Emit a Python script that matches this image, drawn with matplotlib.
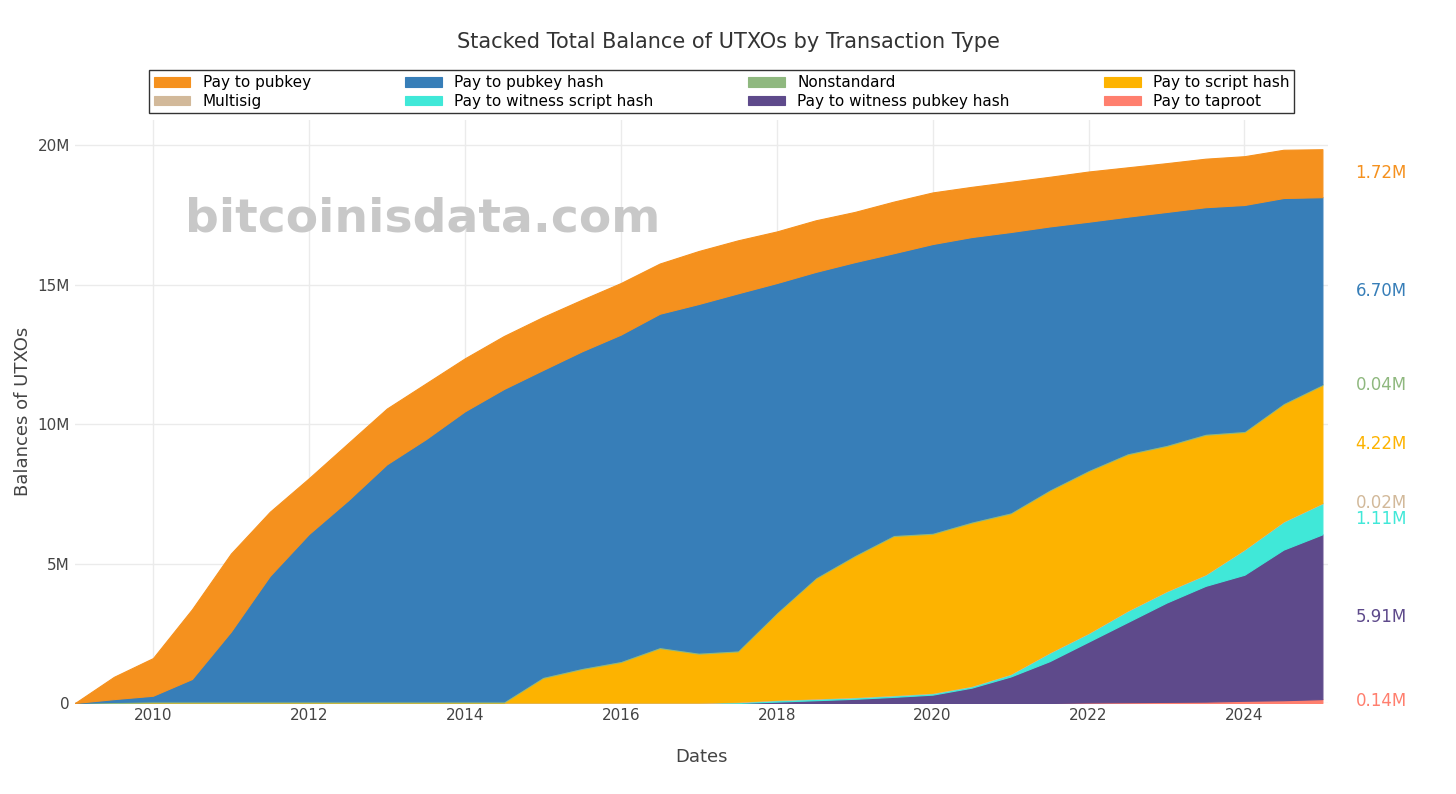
import numpy as np
import matplotlib
matplotlib.use("Agg")
import matplotlib.pyplot as plt
from matplotlib.ticker import FuncFormatter

# half-year steps from 2009.0 to 2025.0
dates = np.arange(2009.0, 2025.01, 0.5)

# balances in millions of BTC
taproot = [0]*26 + [0.02, 0.03, 0.04, 0.05, 0.08, 0.10, 0.14]
p2wpkh = [0]*18 + [0.05, 0.10, 0.15, 0.22, 0.30, 0.55, 0.95, 1.50, 2.18, 2.87,
                   3.56, 4.15, 4.52, 5.40, 5.91]
p2wsh = [0]*17 + [0.03, 0.05, 0.05, 0.05, 0.05, 0.05, 0.05, 0.08, 0.30, 0.30,
                  0.40, 0.40, 0.40, 0.90, 1.00, 1.11]
multisig = [0, 0] + [0.02]*31
p2sh = [0]*12 + [0.88, 1.20, 1.45, 1.95, 1.75, 1.80, 3.10, 4.30, 5.05, 5.70, 5.70,
                 5.85, 5.75, 5.80, 5.80, 5.60, 5.20, 5.00, 4.20, 4.20, 4.22]
nonstandard = [0] + [0.04]*32
p2pkh = [0, 0.10, 0.20, 0.80, 2.50, 4.50, 6.00, 7.20, 8.50, 9.40, 10.40, 11.20,
         11.00, 11.35, 11.70, 11.95, 12.50, 12.80, 11.80, 10.95, 10.50, 10.10,
         10.35, 10.20, 10.05, 9.43, 8.90, 8.48, 8.35, 8.12, 8.10, 7.35, 6.70]
p2pk = [0, 0.80, 1.35, 2.50, 2.80, 2.30, 2.00, 2.05, 2.00, 2.00, 1.90, 1.90,
        1.90, 1.85, 1.85, 1.80, 1.90, 1.90, 1.85, 1.85, 1.80, 1.85, 1.85, 1.80,
        1.80, 1.78, 1.80, 1.77, 1.75, 1.74, 1.75, 1.73, 1.72]

# bottom to top of the stack
series = [
    ("Pay to taproot", taproot, "#FF7F6E"),
    ("Pay to witness pubkey hash", p2wpkh, "#5E4A8B"),
    ("Pay to witness script hash", p2wsh, "#40E8D8"),
    ("Multisig", multisig, "#D2B99A"),
    ("Pay to script hash", p2sh, "#FDB300"),
    ("Nonstandard", nonstandard, "#8FB87F"),
    ("Pay to pubkey hash", p2pkh, "#377EB8"),
    ("Pay to pubkey", p2pk, "#F5911E"),
]

fig = plt.figure(figsize=(14.56, 7.94), dpi=100)
ax = fig.add_axes([0.0515, 0.1146, 0.8605, 0.734])

handles = {}
bottom = np.zeros(len(dates))
for name, vals, col in series:
    vals = np.array(vals, dtype=float)
    top = bottom + vals
    h = ax.fill_between(dates, bottom, top, color=col, linewidth=0.8, edgecolor=col)
    handles[name] = h
    ylab = bottom[-1] + vals[-1] / 2
    ax.text(1.022, ylab, f"{vals[-1]:.2f}M", color=col, fontsize=12,
            va="center", ha="left", transform=ax.get_yaxis_transform())
    bottom = top

ax.set_xlim(2009.0, 2025.07)
ax.set_ylim(0, 20.9)
ax.set_xticks(range(2010, 2025, 2))
ax.set_yticks([0, 5, 10, 15, 20])
ax.yaxis.set_major_formatter(FuncFormatter(lambda v, p: "0" if v == 0 else f"{int(v)}M"))
ax.grid(True, color="#ebebeb", linewidth=1)
ax.set_axisbelow(True)
for s in ax.spines.values():
    s.set_visible(False)
ax.tick_params(length=0, labelsize=11, colors="#444444")
ax.set_xlabel("Dates", fontsize=13, color="#444444", labelpad=18)
ax.set_ylabel("Balances of UTXOs", fontsize=13, color="#444444")

ax.text(0.088, 0.83, "bitcoinisdata.com", transform=ax.transAxes, fontsize=34,
        fontweight="bold", color="#c8c8c8", va="center", ha="left")

fig.suptitle("Stacked Total Balance of UTXOs by Transaction Type", y=0.96,
             fontsize=15, color="#333333")

order = ["Pay to pubkey", "Multisig", "Pay to pubkey hash", "Pay to witness script hash",
         "Nonstandard", "Pay to witness pubkey hash", "Pay to script hash", "Pay to taproot"]
leg = fig.legend([handles[n] for n in order], order, ncol=4, loc="center",
                 bbox_to_anchor=(0.4957, 0.8842), fontsize=11, frameon=True,
                 fancybox=False, edgecolor="black", handlelength=2.4,
                 handleheight=0.6, columnspacing=6.2, borderpad=0.3, labelspacing=0.25)
leg.get_frame().set_linewidth(1)

fig.savefig("out.png", dpi=100)
